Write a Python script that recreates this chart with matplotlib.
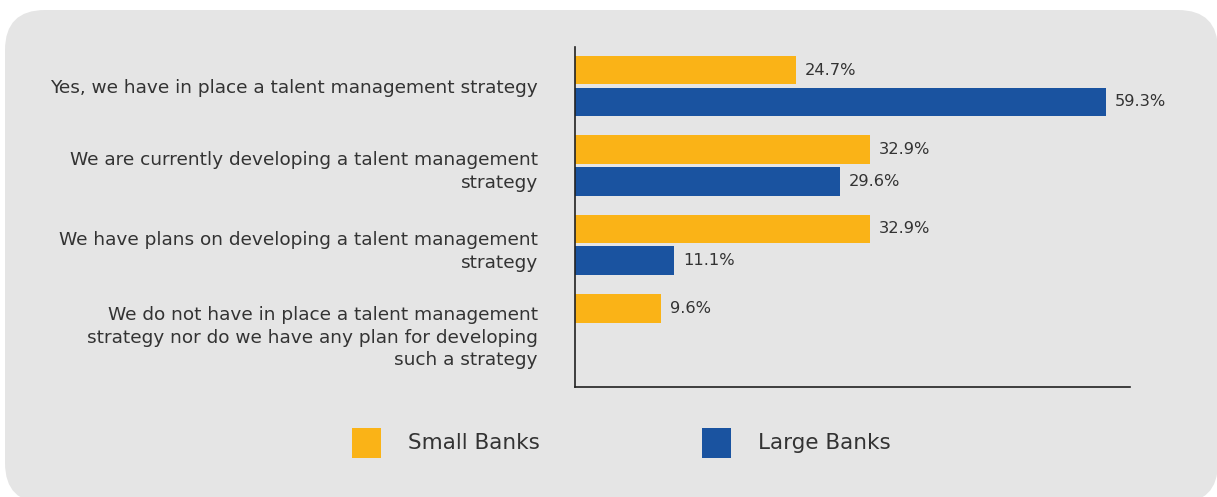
import matplotlib
matplotlib.use("Agg")
import matplotlib.pyplot as plt
from matplotlib.patches import FancyBboxPatch, Rectangle
import matplotlib.transforms as mtransforms
import numpy as np

categories = [
    "Yes, we have in place a talent management strategy",
    "We are currently developing a talent management\nstrategy",
    "We have plans on developing a talent management\nstrategy",
    "We do not have in place a talent management\nstrategy nor do we have any plan for developing\nsuch a strategy",
]
series_names = ["Small Banks", "Large Banks"]
small_banks = [24.7, 32.9, 32.9, 9.6]
large_banks = [59.3, 29.6, 11.1, None]
colors = ["#FAB317", "#1A53A0"]

W, H = 1217, 497
fig = plt.figure(figsize=(W / 100, H / 100), dpi=100)
fig.patch.set_facecolor("white")

# rounded grey background panel (inches)
bg = FancyBboxPatch((0.05, -0.06), 12.13, 4.93,
                    boxstyle="round,pad=0,rounding_size=0.40",
                    transform=fig.dpi_scale_trans, facecolor="#E5E5E5",
                    edgecolor="none", zorder=0)
fig.add_artist(bg)

ax = fig.add_axes([575 / W, 110 / H, 555 / W, 340 / H])
ax.set_facecolor("none")

y = np.arange(len(categories))
h = 0.36
off = 0.2
txt = "#333333"
for vals, c, d in [(small_banks, colors[0], -off), (large_banks, colors[1], off)]:
    for yi, v in zip(y, vals):
        if v is None:
            continue
        ax.barh(yi + d, v, height=h, color=c, edgecolor="none", zorder=2)
        ax.text(v + 1.0, yi + d, f"{v:.1f}%", va="center", ha="left",
                fontsize=11.7, color=txt)

ax.set_ylim(3.79, -0.49)
ax.set_xlim(0, 62)
ax.set_yticks([])
ax.set_xticks([])

# category labels (right aligned left of the axis)
label_shift = [0.025, 0.075, 0.085, 0.17]
trans = mtransforms.blended_transform_factory(ax.transAxes, ax.transData)
for yi, cat, s in zip(y, categories, label_shift):
    ax.text(-37 / 555, yi + s, cat, transform=trans, ha="right", va="center",
            fontsize=13.3, color=txt, linespacing=1.33, multialignment="right")

for s in ["top", "right"]:
    ax.spines[s].set_visible(False)
for s in ["left", "bottom"]:
    ax.spines[s].set_color("#222222")
    ax.spines[s].set_linewidth(1.2)

# legend
leg_items = [(352, series_names[0], colors[0]), (702, series_names[1], colors[1])]
for x0, name, c in leg_items:
    fig.add_artist(Rectangle((x0 / W, (H - 458) / H), 29 / W, 30 / H,
                             transform=fig.transFigure, facecolor=c,
                             edgecolor="none"))
    fig.text((x0 + 56) / W, (H - 443) / H, name, fontsize=15.5, color=txt,
             va="center", ha="left")

fig.savefig("out.png", dpi=100)
